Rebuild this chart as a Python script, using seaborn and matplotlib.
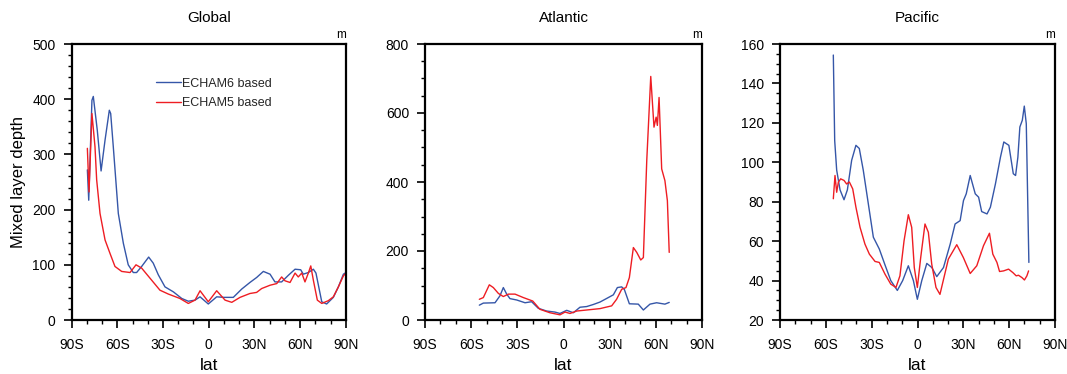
import matplotlib
matplotlib.use("Agg")
import matplotlib.pyplot as plt
from matplotlib import font_manager
from matplotlib.ticker import MultipleLocator, FixedLocator
import seaborn as sns
import pandas as pd

# ---------------- data ----------------
runs = ["ECHAM6 based", "ECHAM5 based"]
basins = ["Global", "Atlantic", "Pacific"]

glob_lat_e6 = [-79.6, -78.7, -76.6, -75.7, -73.1, -70.6, -68.0, -65.2, -64.3, -62.6, -59.3,
               -56.0, -52.8, -49.5, -47.3, -44.0, -39.4, -36.4, -33.1, -28.7, -23.2, -17.7,
               -13.4, -9.0, -5.7, -0.3, 5.2, 10.0, 16.1, 21.6, 27.0, 31.4, 35.8, 40.2, 43.4,
               47.8, 52.2, 56.6, 60.3, 62.0, 65.3, 68.6, 70.3, 74.1, 77.3, 81.7, 85.0, 88.3, 90.0]
glob_e6 = [272, 217, 398, 405, 344, 270, 326, 380, 374, 314, 193,
           139, 100, 86, 86, 97, 114, 103, 82, 60, 51, 39,
           34, 36, 42, 29, 42, 41, 41, 56, 68, 77, 88, 83, 69,
           69, 81, 92, 91, 83, 86, 92, 85, 33, 29, 41, 60, 83, 86]

glob_lat_e5 = [-79.6, -78.5, -76.6, -74.6, -73.5, -71.3, -68.0, -64.8, -61.5, -57.1, -51.6,
               -47.7, -44.0, -37.4, -32.0, -26.5, -18.9, -13.4, -9.0, -5.7, -0.3, 5.2, 10.7,
               15.1, 20.5, 27.0, 31.4, 34.7, 40.2, 44.6, 47.8, 50.0, 53.3, 56.6, 58.7, 61.0,
               63.1, 65.3, 66.9, 68.6, 71.2, 74.1, 78.4, 81.7, 85.0, 88.3, 90.0]
glob_e5 = [311, 232, 374, 314, 254, 193, 145, 121, 97, 88, 86,
           100, 94, 72, 54, 47, 39, 30, 36, 53, 33, 53, 36,
           32, 41, 48, 50, 57, 63, 66, 78, 71, 68, 85, 78, 85,
           69, 85, 98, 72, 36, 30, 35, 42, 60, 80, 85]

atl_lat_e6 = [-54.7, -52.1, -44.5, -41.3, -39.1, -36.9, -34.8, -30.4, -25.0, -20.7, -16.4,
              -11.0, -5.6, -2.3, 2.1, 6.4, 10.7, 15.1, 19.4, 23.7, 29.1, 32.4, 35.0, 37.8,
              39.5, 42.8, 48.6, 51.9, 56.2, 60.5, 65.9, 68.7]
atl_e6 = [43, 49, 50, 70, 94, 75, 62, 58, 50, 53, 34,
          26, 23, 19, 28, 21, 37, 39, 45, 52, 65, 73, 94, 96,
          89, 47, 46, 29, 46, 50, 46, 51]

atl_lat_e5 = [-54.7, -52.1, -48.2, -45.6, -42.3, -39.1, -35.8, -31.5, -26.1, -20.0, -15.3,
              -8.8, -2.3, 1.0, 4.2, 8.6, 15.1, 23.7, 31.3, 34.5, 37.8, 40.6, 42.8, 45.4,
              47.6, 50.2, 51.9, 54.1, 56.7, 58.8, 60.2, 61.0, 62.1, 63.8, 65.9, 67.5, 68.7]
atl_e5 = [60, 65, 102, 94, 77, 68, 75, 75, 65, 55, 31,
          21, 15, 23, 19, 26, 29, 33, 41, 60, 89, 94, 123, 210,
          196, 174, 181, 462, 706, 559, 588, 564, 645, 438, 404, 346, 196]

pac_lat_e6 = [-55.1, -54.2, -52.9, -50.7, -48.1, -45.9, -43.1, -40.3, -38.1, -35.5, -32.2,
              -28.9, -25.0, -21.3, -17.5, -13.2, -9.7, -6.0, -2.7, -0.1, 2.8, 6.1, 9.4,
              12.6, 17.0, 21.4, 24.6, 27.9, 30.1, 31.9, 34.5, 37.8, 40.0, 42.0, 45.5, 47.7,
              51.0, 54.3, 56.5, 59.8, 62.7, 64.2, 65.7, 67.0, 68.6, 69.9, 71.2, 72.9]
pac_e6 = [154.4, 111, 96, 86, 81, 86, 101, 108.6, 107, 96, 79,
          62, 56, 48, 40, 35, 40, 47.5, 40, 30.5, 40, 48.7, 46.6,
          42, 46.6, 58.5, 68.7, 70.4, 80.6, 84, 93.3, 84, 82.3, 75, 73.8, 77.2,
          89, 102.6, 110.3, 108.6, 94.2, 93.3, 102.6, 117.9, 121.3, 128.5, 119.6, 49.2]

pac_lat_e5 = [-55.1, -54.0, -52.9, -51.8, -50.3, -48.1, -46.4, -44.6, -42.4, -40.3, -37.6,
              -34.4, -31.5, -27.8, -25.0, -21.3, -17.5, -14.1, -11.5, -8.8, -6.0, -3.8,
              -2.1, -0.1, 2.1, 4.9, 7.1, 9.3, 12.1, 14.7, 20.2, 25.7, 30.0, 34.5, 38.8,
              43.2, 47.1, 49.3, 52.0, 53.7, 56.3, 59.6, 62.5, 64.6, 66.1, 68.4, 70.0,
              71.6, 72.7]
pac_e5 = [81.5, 93.3, 84.8, 89.9, 91.6, 90.8, 89, 90, 86.5, 77.2, 67,
          58.5, 53.4, 49.7, 49.2, 43.3, 38.2, 36.5, 42.4, 60.2, 73.4, 67,
          46.6, 36.5, 51.7, 68.7, 64.5, 48.4, 36.5, 33, 50.9, 58.2, 51.7, 43.6, 47.5,
          57.7, 64, 53.4, 49.2, 44.6, 44.9, 45.8, 44, 42.4, 42.7, 41.5, 40.3,
          42.4, 44.9]

lat_ticks = [-90, -60, -30, 0, 30, 60, 90]
lat_labels = ["90S", "60S", "30S", "0", "30N", "60N", "90N"]
y_limits = {"Global": (0, 500), "Atlantic": (0, 800), "Pacific": (20, 160)}
y_major = {"Global": 100, "Atlantic": 200, "Pacific": 20}
y_minor = {"Global": 20, "Atlantic": 50, "Pacific": 5}

# ---------------- long-form table ----------------
series = {
    ("Global", runs[0]): (glob_lat_e6, glob_e6),
    ("Global", runs[1]): (glob_lat_e5, glob_e5),
    ("Atlantic", runs[0]): (atl_lat_e6, atl_e6),
    ("Atlantic", runs[1]): (atl_lat_e5, atl_e5),
    ("Pacific", runs[0]): (pac_lat_e6, pac_e6),
    ("Pacific", runs[1]): (pac_lat_e5, pac_e5),
}
rows = []
for (basin, run), (lats, vals) in series.items():
    for la, v in zip(lats, vals):
        rows.append({"basin": basin, "run": run, "lat": la, "depth": v})
df = pd.DataFrame(rows)

# ---------------- style ----------------
sns.set_theme(style="white")
available = {f.name for f in font_manager.fontManager.ttflist}
narrow = "Liberation Sans Narrow" if "Liberation Sans Narrow" in available else "Liberation Sans"
plt.rcParams["font.family"] = ["Liberation Sans", "DejaVu Sans"]

palette = {runs[0]: "#3556a8", runs[1]: "#ee1d23"}

fig = plt.figure(figsize=(10.67, 3.74), dpi=100)
lefts = [71.5 / 1067, 425 / 1067, 780 / 1067]
widths = [274.5 / 1067, 277 / 1067, 275 / 1067]
bottom = 1 - 320 / 374
height = (320 - 44) / 374

for i, basin in enumerate(basins):
    ax = fig.add_axes([lefts[i], bottom, widths[i], height])
    sub = df[df["basin"] == basin]
    sns.lineplot(data=sub, x="lat", y="depth", hue="run", hue_order=runs,
                 palette=palette, estimator=None, sort=False, linewidth=1.0,
                 legend=(i == 0), ax=ax)
    ax.set_xlim(-90, 90)
    ax.set_ylim(*y_limits[basin])
    ax.xaxis.set_major_locator(FixedLocator(lat_ticks))
    ax.set_xticklabels(lat_labels)
    ax.xaxis.set_minor_locator(MultipleLocator(10))
    ax.yaxis.set_major_locator(MultipleLocator(y_major[basin]))
    ax.yaxis.set_minor_locator(MultipleLocator(y_minor[basin]))
    ax.tick_params(axis="both", which="major", direction="out", length=5.5, width=1.2,
                   labelsize=10, color="black", labelcolor="black")
    ax.tick_params(axis="x", which="major", pad=7.5)
    ax.tick_params(axis="y", which="major", pad=6)
    ax.tick_params(axis="both", which="minor", direction="out", length=3, width=1.0,
                   color="black")
    ax.tick_params(top=False, right=False, bottom=True, left=True, which="both")
    for lab in ax.get_xticklabels() + ax.get_yticklabels():
        lab.set_family(narrow)
    for s in ax.spines.values():
        s.set_linewidth(1.6)
        s.set_color("black")
    ax.set_xlabel("lat", fontsize=12.5, family=narrow, labelpad=4, color="black")
    if i == 0:
        ax.set_ylabel("Mixed layer depth", fontsize=12, labelpad=4.5, color="black")
        ax.legend(loc="upper left", bbox_to_anchor=(0.308, 0.878), frameon=False,
                  fontsize=9, handlelength=2.0, handletextpad=0.05,
                  labelspacing=0.62, borderaxespad=0, borderpad=0)
    else:
        ax.set_ylabel("")
    ax.set_title(basin, fontsize=11, pad=16, color="black")
    ax.text(1.0, 1.012, "m", transform=ax.transAxes, ha="right", va="bottom",
            fontsize=8.5, color="black")

fig.savefig("out.png", dpi=100)
